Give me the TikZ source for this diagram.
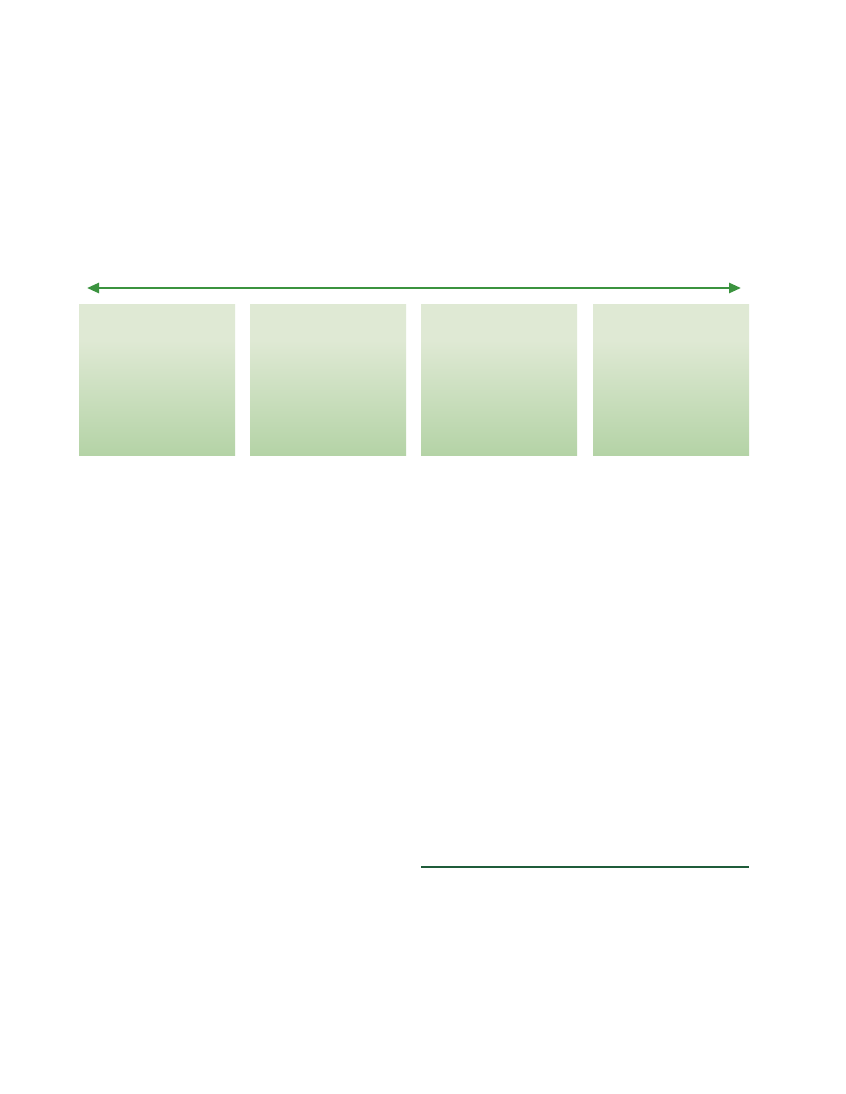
\documentclass[tikz,border=0pt]{standalone}
\usetikzlibrary{arrows.meta}
\definecolor{boxtop}{HTML}{DFE9D4}
\definecolor{boxbot}{HTML}{B4D3A6}
\definecolor{arrowgreen}{HTML}{3B933F}
\definecolor{rulegreen}{HTML}{1F5C3A}
\pgfdeclareverticalshading{boxshade}{100bp}{color(0bp)=(boxbot); color(25bp)=(boxbot); color(63bp)=(boxtop); color(100bp)=(boxtop)}
\tikzset{
  gbox/.style={shading=boxshade, draw=none, minimum width=156bp, minimum height=151bp, inner sep=0pt, outer sep=0pt, anchor=north west},
  spanarrow/.style={draw=arrowgreen, line width=2.6bp, {Triangle[length=12bp,width=10bp]}-{Triangle[length=12bp,width=10bp]}},
  baserule/.style={draw=rulegreen, line width=1.1bp}
}
\begin{document}
\begin{tikzpicture}[x=1bp,y=-1bp]
\useasboundingbox[fill=white] (0,0) rectangle (846,1094);
\node[gbox] (b1) at (79,304) {};
\node[gbox] (b2) at (250,304) {};
\node[gbox] (b3) at (421,304) {};
\node[gbox] (b4) at (593,304) {};
\coordinate (aL) at (87,288);
\coordinate (aR) at (741,288);
\draw[spanarrow] (aL) -- (aR);
\coordinate (l1) at (421,867);
\coordinate (l2) at (749,867);
\draw[baserule] (l1) -- (l2);
\end{tikzpicture}
\end{document}
